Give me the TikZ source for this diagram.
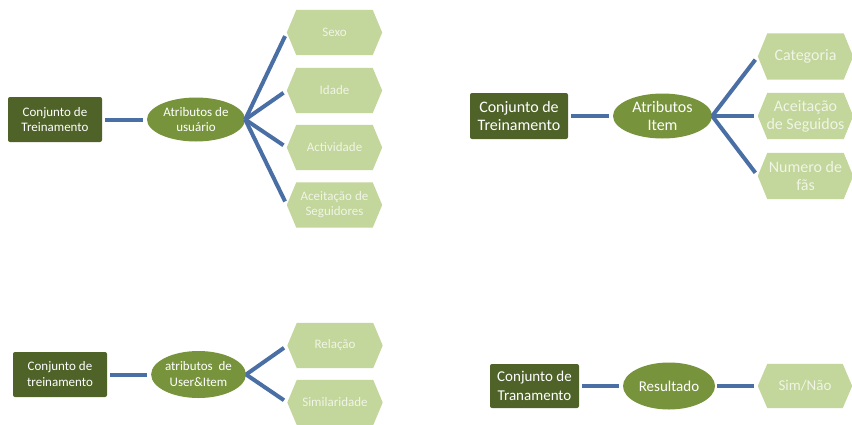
\documentclass[tikz,border=0pt]{standalone}
\usepackage{fontspec}
\setmainfont{Carlito}
\usetikzlibrary{backgrounds,shapes.geometric}

\definecolor{boxgreen}{HTML}{4F6228}
\definecolor{ellgreen}{HTML}{77933C}
\definecolor{hexgreen}{HTML}{C3D69B}
\definecolor{hextext}{HTML}{F0F5E6}
\definecolor{linkblue}{HTML}{4A6FA5}

\tikzset{
  x=1pt, y=-1pt,
  setbox/.style={fill=boxgreen, text=white, rounded corners=2pt, inner sep=0pt, align=center},
  attrell/.style={ellipse, fill=ellgreen, text=white, inner sep=0pt, align=center},
  hexnode/.style={inner sep=0pt, align=center, text=hextext},
  link/.style={draw=linkblue, line width=4pt},
}

% light-green hexagon behind a node
\newcommand{\hexfill}[1]{%
  \fill[hexgreen] (#1.west) -- ([xshift=9.5pt]#1.north west) -- ([xshift=-9.5pt]#1.north east)
    -- (#1.east) -- ([xshift=-9.5pt]#1.south east) -- ([xshift=9.5pt]#1.south west) -- cycle;}

\begin{document}
\begin{tikzpicture}
\useasboundingbox (0,0) rectangle (852,424);

% --- user attributes ---
\node[setbox, minimum width=94pt, minimum height=45pt, font=\fontsize{13}{15}\selectfont]
  (b1) at (55,119.5) {Conjunto de\\Treinamento};
\node[attrell, minimum width=98pt, minimum height=44pt, font=\fontsize{13}{15}\selectfont]
  (e1) at (196,119.5) {Atributos de\\usuário};
\foreach \n/\y/\t in {h11/32.5/Sexo, h12/90.5/Idade, h13/147.5/Actividade, h14/205/{Aceitação de\\Seguidores}}
  \node[hexnode, minimum width=95pt, minimum height=45pt, font=\fontsize{13}{15}\selectfont]
    (\n) at (334.5,\y) {\t};

% --- item attributes ---
\node[setbox, minimum width=98pt, minimum height=46pt, font=\fontsize{16}{18}\selectfont]
  (b2) at (519,116) {Conjunto de\\Treinamento};
\node[attrell, minimum width=99pt, minimum height=45pt, font=\fontsize{16}{18}\selectfont]
  (e2) at (662.5,116) {Atributos\\Item};
\foreach \n/\y/\t in {h21/56.5/Categoria, h22/116/{Aceitação\\de Seguidos}, h23/176/{Numero de\\fãs}}
  \node[hexnode, minimum width=95pt, minimum height=46pt, font=\fontsize{16}{18}\selectfont]
    (\n) at (805.5,\y) {\t};

% --- user & item attributes ---
\node[setbox, minimum width=94pt, minimum height=45pt, font=\fontsize{13}{16}\selectfont]
  (b3) at (60,374.5) {Conjunto de\\treinamento};
\node[attrell, minimum width=93pt, minimum height=47pt, font=\fontsize{13}{16}\selectfont]
  (e3) at (198.5,374.5) {atributos~ de\\User\&Item};
\foreach \n/\y/\t in {h31/345.5/Relação, h32/402.5/Similaridade}
  \node[hexnode, minimum width=95pt, minimum height=45pt, font=\fontsize{13}{15}\selectfont]
    (\n) at (335,\y) {\t};

% --- result ---
\node[setbox, minimum width=89pt, minimum height=44pt, font=\fontsize{15}{19}\selectfont]
  (b4) at (534.5,386) {Conjunto de\\Tranamento};
\node[attrell, minimum width=92pt, minimum height=47pt, font=\fontsize{15}{18}\selectfont]
  (e4) at (669,386) {Resultado};
\node[hexnode, minimum width=94pt, minimum height=44pt, font=\fontsize{15}{18}\selectfont]
  (h41) at (805,386) {Sim/Não};

\begin{scope}[on background layer]
  \foreach \h in {h11,h12,h13,h14,h21,h22,h23,h31,h32,h41} {\hexfill{\h}}
\end{scope}

% connectors
\draw[link, shorten <=3pt, shorten >=4pt] (b1) -- (e1);
\draw[link, shorten <=3pt, shorten >=4pt] (b2) -- (e2);
\draw[link, shorten <=3pt, shorten >=4pt] (b3) -- (e3);
\draw[link, shorten <=3pt, shorten >=4pt] (b4) -- (e4);
\draw[link, shorten <=2pt, shorten >=4pt] (e4) -- (h41);
\foreach \h in {h11,h12,h13,h14} \draw[link, shorten >=4pt] (e1.east) -- (\h.west);
\foreach \h in {h21,h22,h23} \draw[link, shorten >=4pt] (e2.east) -- (\h.west);
\foreach \h in {h31,h32} \draw[link, shorten >=4pt] (e3.east) -- (\h.west);
\end{tikzpicture}
\end{document}
